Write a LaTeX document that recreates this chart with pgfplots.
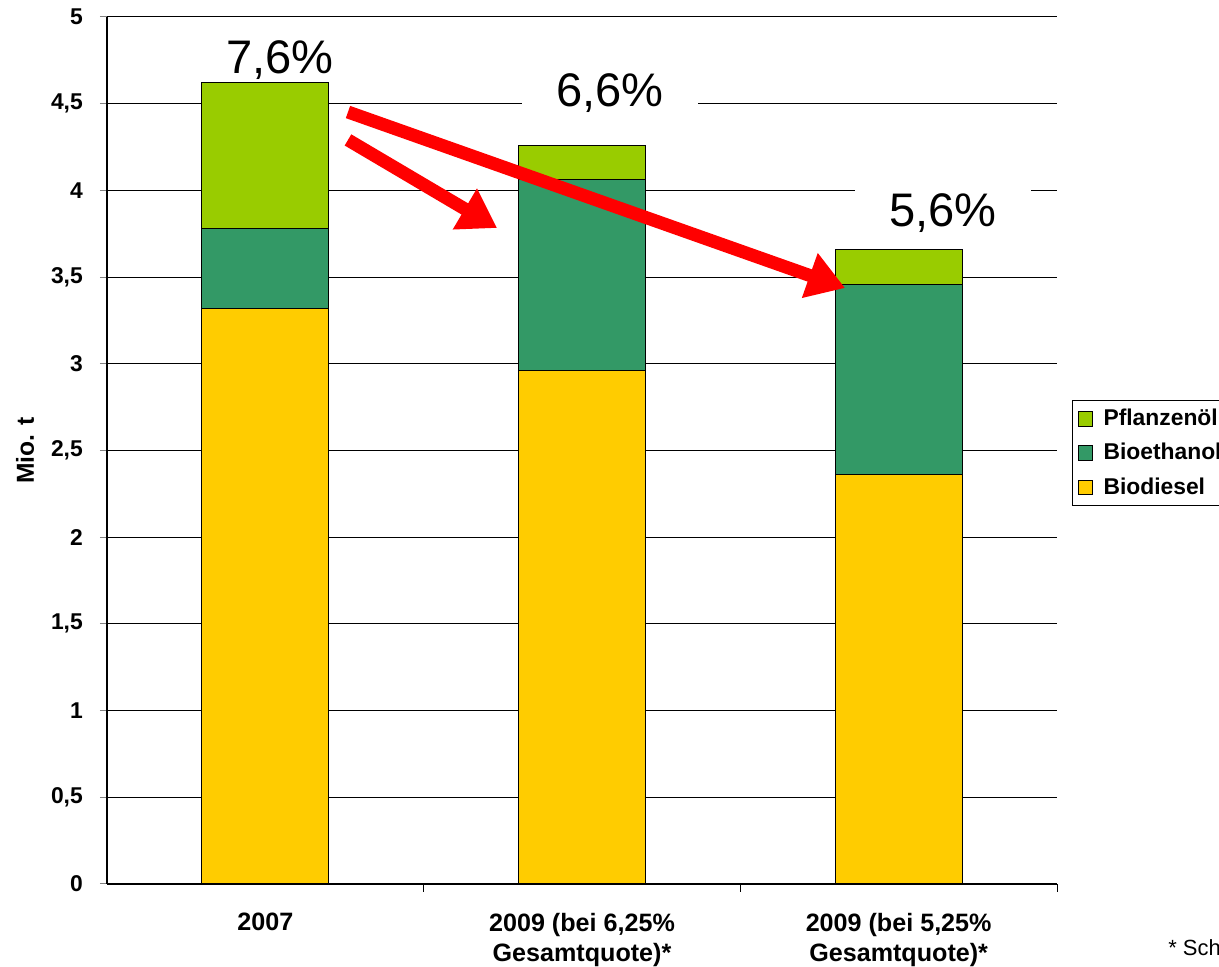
\documentclass[border=0pt]{standalone}
\usepackage{fontspec}
\setmainfont{Liberation Sans}
\usepackage{pgfplots}
\pgfplotsset{compat=1.18}
\usetikzlibrary{arrows.meta}

\definecolor{oel}{HTML}{99CC00}
\definecolor{ethanol}{HTML}{339966}
\definecolor{diesel}{HTML}{FFCC00}

\pgfplotsset{sq legend/.style={legend image code/.code={%
    \draw[##1,draw=black,line width=0.2mm] (0mm,-1.45mm) rectangle (2.9mm,1.45mm);}}}

\begin{document}
\begin{tikzpicture}
\useasboundingbox (0,0) rectangle (243.8mm,193.4mm);
\begin{axis}[
    at={(21.4mm,16.6mm)}, anchor=south west,
    scale only axis, width=190mm, height=173.4mm,
    ybar stacked, bar width=0.4,
    xmin=-0.5, xmax=2.5, ymin=0, ymax=5,
    ytick distance=0.5,
    xtick={0,1,2},
    xticklabels={2007,{2009 (bei 6,25\%\\Gesamtquote)*},{2009 (bei 5,25\%\\Gesamtquote)*}},
    xtick style={draw=none},
    extra x ticks={0.5,1.5,2.5},
    extra x tick labels={},
    extra x tick style={xtick style={draw=black, line width=0.2mm}, tick align=outside, major tick length=1.6mm},
    axis x line*=bottom, axis y line*=left,
    axis line style={line width=0.3mm},
    ytick style={line width=0.2mm}, tick align=outside, major tick length=1.4mm,
    ymajorgrids, grid style={black, line width=0.2mm},
    /pgf/number format/use comma,
    /pgf/number format/assume math mode=true,
    yticklabel style={font=\bfseries\fontsize{13}{15}\selectfont, xshift=-2.2mm},
    xticklabel style={font=\bfseries\fontsize{14.3}{17}\selectfont, align=center, yshift=-3.2mm},
    ylabel={Mio. t},
    ylabel style={at={(rel axis cs:-0.0863,0.5)}, anchor=center, font=\bfseries\fontsize{14}{16}\selectfont},
    legend style={at={(rel axis cs:1.0158,0.558)}, anchor=north west, draw=black, line width=0.2mm,
        font=\bfseries\fontsize{13}{15}\selectfont, row sep=1.6mm, inner sep=1mm,
        /tikz/every odd column/.append style={column sep=1.4mm}},
    legend cell align=left,
    reverse legend,
    clip=false,
]
\addplot[fill=diesel, draw=black, line width=0.2mm, sq legend]
    coordinates {(0,3.32) (1,2.96) (2,2.36)};
\addplot[fill=ethanol, draw=black, line width=0.2mm, sq legend]
    coordinates {(0,0.46) (1,1.10) (2,1.10)};
\addplot[fill=oel, draw=black, line width=0.2mm, sq legend]
    coordinates {(0,0.845) (1,0.20) (2,0.20)};
\legend{Biodiesel,Bioethanol,Pflanzenöl}

\coordinate (a1s) at (axis cs:0.261,4.452);
\coordinate (a1e) at (axis cs:1.831,3.437);
\coordinate (a2s) at (axis cs:0.261,4.291);
\coordinate (a2e) at (axis cs:0.732,3.783);
\coordinate (p1) at (axis cs:0.046,4.752);
\coordinate (p2) at (axis cs:1.088,4.562);
\coordinate (p3) at (axis cs:2.14,3.870);
\end{axis}
\node[font=\fontsize{26.8}{30}\selectfont] at (p1) {7,6\%};
\node[font=\fontsize{26.8}{30}\selectfont, fill=white, inner xsep=6.8mm, inner ysep=1mm] at (p2) {6,6\%};
\node[font=\fontsize{26.8}{30}\selectfont, fill=white, inner xsep=6.8mm, inner ysep=1mm] at (p3) {5,6\%};
\draw[red, line width=2.6mm, -{Triangle[length=7.5mm,width=9mm]}] (a1s) -- (a1e);
\draw[red, line width=2.6mm, -{Triangle[length=7.5mm,width=9mm]}] (a2s) -- (a2e);
\node[anchor=base west, font=\fontsize{12.5}{14}\selectfont, inner sep=0pt] at (233.6mm,2.2mm) {* Sch};
\end{tikzpicture}
\end{document}
